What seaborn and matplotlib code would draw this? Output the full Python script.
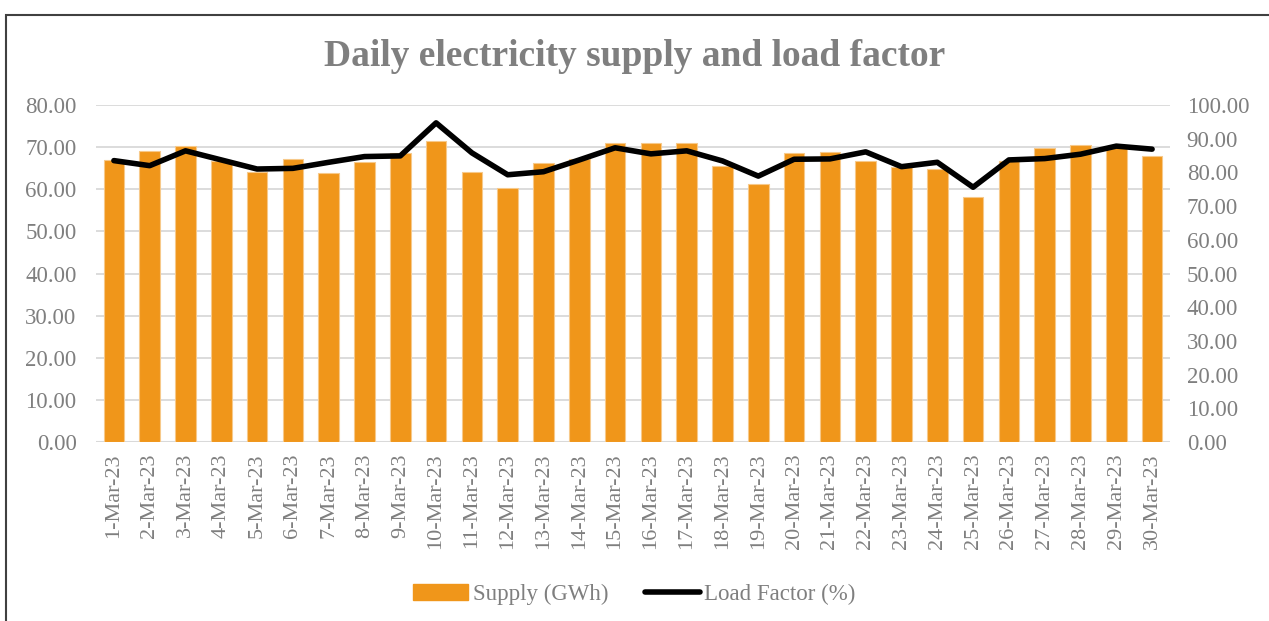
import matplotlib
matplotlib.use("Agg")
import matplotlib.pyplot as plt
import matplotlib.patches as mpatches
from matplotlib.lines import Line2D
import seaborn as sns
import pandas as pd
import numpy as np

# data
days = [f"{d}-Mar-23" for d in range(1, 31)]
supply_gwh = [67.0, 69.1, 70.3, 66.8, 64.2, 67.2, 63.8, 66.4, 68.6, 71.5,
              64.1, 60.4, 66.2, 67.2, 71.0, 70.9, 70.9, 65.6, 61.2, 68.5,
              68.8, 66.6, 65.2, 64.7, 58.2, 66.8, 69.9, 70.6, 69.8, 67.9]
load_factor = [83.5, 82.0, 86.4, 83.7, 81.0, 81.2, 83.0, 84.7, 84.9, 94.7,
               85.8, 79.3, 80.2, 83.7, 87.3, 85.5, 86.4, 83.4, 78.9, 83.9,
               84.0, 86.1, 81.7, 83.0, 75.6, 83.7, 84.1, 85.4, 87.8, 86.9]
left_ticks = [0, 10, 20, 30, 40, 50, 60, 70, 80]
right_ticks = [0, 10, 20, 30, 40, 50, 60, 70, 80, 90, 100]

BAR_COLOR = "#F0961A"
TEXT_GRAY = "#7F7F7F"
GRID_GRAY = "#D9D9D9"

df = pd.DataFrame({"day": days, "supply": supply_gwh, "lf": load_factor})

sns.set_style("white")
plt.rcParams["font.family"] = ["Liberation Serif", "DejaVu Serif"]

fig = plt.figure(figsize=(12.69, 6.21), dpi=100)
ax = fig.add_axes([96 / 1269, 1 - 442 / 621, (1170 - 96) / 1269, (442 - 105) / 621])

sns.barplot(data=df, x="day", y="supply", color=BAR_COLOR, saturation=1,
            width=0.57, edgecolor="#F7C98A", linewidth=0.8, ax=ax, zorder=2)
ax.set_ylim(0, 80)
ax.set_xlim(-0.5, len(days) - 0.5)
ax.set_yticks(left_ticks)
ax.set_yticklabels([f"{v:.2f}" for v in left_ticks])
ax.yaxis.grid(True, color=GRID_GRAY, linewidth=1.3, zorder=0)
ax.set_axisbelow(True)
for s in ax.spines.values():
    s.set_visible(False)
ax.axhline(0, color=GRID_GRAY, linewidth=1.5, zorder=1)
ax.set_xlabel("")
ax.set_ylabel("")
ax.tick_params(axis="y", length=0, pad=14, labelsize=16.5, labelcolor=TEXT_GRAY)
ax.tick_params(axis="x", length=0, pad=8, labelsize=16, labelcolor=TEXT_GRAY,
               rotation=90)

ax2 = ax.twinx()
sns.lineplot(x=np.arange(len(days)), y=load_factor, color="black", linewidth=4,
             solid_capstyle="round", ax=ax2, zorder=3)
ax2.set_ylim(0, 100)
ax2.set_yticks(right_ticks)
ax2.set_yticklabels([f"{v:.2f}" for v in right_ticks])
for s in ax2.spines.values():
    s.set_visible(False)
ax2.tick_params(axis="y", length=0, pad=12, labelsize=16.5, labelcolor=TEXT_GRAY)
ax2.set_ylabel("")

fig.text(0.5, 1 - 56 / 621, "Daily electricity supply and load factor",
         ha="center", va="center", fontsize=27, fontweight="bold", color=TEXT_GRAY)

handles = [mpatches.Patch(color=BAR_COLOR, label="Supply (GWh)"),
           Line2D([0], [0], color="black", linewidth=4, solid_capstyle="round",
                  label="Load Factor (%)")]
leg = fig.legend(handles=handles, loc="center", bbox_to_anchor=(0.5, 1 - 594 / 621),
                 ncol=2, frameon=False, fontsize=16.5, handlelength=2.4,
                 handletextpad=0.2, columnspacing=1.6)
for t in leg.get_texts():
    t.set_color(TEXT_GRAY)

# outer chart frame (cut off at right and bottom like the reference)
frame = mpatches.Rectangle((6 / 1269, -0.1), 1.2, 1 - 15 / 621 + 0.1,
                           transform=fig.transFigure, fill=False,
                           edgecolor="#404040", linewidth=1.5, clip_on=False)
fig.add_artist(frame)

fig.savefig("out.png", dpi=100)
